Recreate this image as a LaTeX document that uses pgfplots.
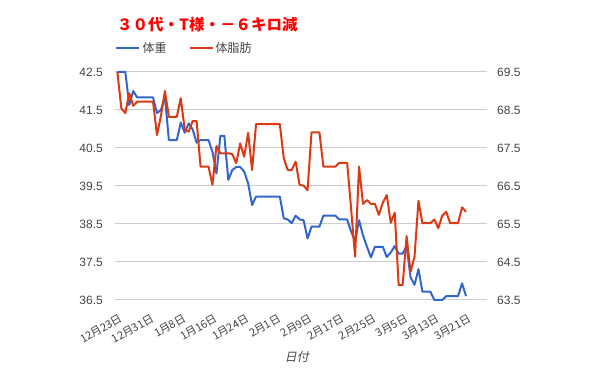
\documentclass[border=0pt]{standalone}
\usepackage{pgfplots}
\pgfplotsset{compat=1.18}
\usepackage{pgfplotstable}
\usepackage{fontspec}
\setmainfont{Liberation Sans}
\newfontfamily\jp{Noto Sans CJK JP}
\newfontfamily\jpit[FakeSlant=0.2]{Noto Sans CJK JP}
\definecolor{gblue}{HTML}{3366CC}
\definecolor{gred}{HTML}{DC3912}
\definecolor{gridc}{HTML}{CCCCCC}
\definecolor{txt}{HTML}{444444}
\pgfplotstableread{
day w f
0 42.5 69.5
1 42.5 68.54
2 42.5 68.42
3 41.63 68.94
4 42.0 68.61
5 41.83 68.72
6 41.83 68.72
7 41.83 68.72
8 41.83 68.72
9 41.83 68.72
10 41.42 67.84
11 41.5 68.35
12 41.85 69.0
13 40.71 68.32
14 40.71 68.32
15 40.71 68.32
16 41.17 68.81
17 40.9 67.99
18 41.15 67.93
19 40.99 68.21
20 40.64 68.21
21 40.71 67.01
22 40.71 67.01
23 40.71 67.01
24 40.4 66.53
25 39.83 67.55
26 40.82 67.36
27 40.82 67.36
28 39.66 67.36
29 39.92 67.34
30 40.0 67.1
31 40.0 67.62
32 39.88 67.27
33 39.57 67.9
34 39.0 66.92
35 39.22 68.13
36 39.22 68.13
37 39.22 68.13
38 39.22 68.13
39 39.22 68.13
40 39.22 68.13
41 39.22 68.13
42 38.65 67.23
43 38.62 66.92
44 38.52 66.92
45 38.72 67.14
46 38.62 66.53
47 38.6 66.51
48 38.12 66.39
49 38.43 67.91
50 38.43 67.91
51 38.43 67.91
52 38.72 67.01
53 38.72 67.01
54 38.72 67.01
55 38.72 67.01
56 38.62 67.11
57 38.62 67.11
58 38.62 67.11
59 38.3 65.9
60 38.05 64.64
61 38.6 67.01
62 38.2 66.03
63 37.9 66.13
64 37.62 66.03
65 37.9 66.03
66 37.9 65.74
67 37.9 66.06
68 37.63 66.26
69 37.75 65.53
70 37.92 65.8
71 37.72 63.89
72 37.72 63.89
73 37.92 65.18
74 37.1 64.24
75 36.9 64.64
76 37.31 66.11
77 36.72 65.52
78 36.72 65.52
79 36.72 65.52
80 36.5 65.62
81 36.5 65.39
82 36.5 65.72
83 36.6 65.82
84 36.6 65.52
85 36.6 65.52
86 36.6 65.52
87 36.94 65.94
88 36.6 65.82
}\datatable
\begin{document}
\begin{tikzpicture}
\path[use as bounding box] (0,0) rectangle (600bp,371bp);
\pgfplotsset{
  common/.style={
    scale only axis, width=372bp, height=228bp,
    at={(115bp,71bp)}, anchor=south west,
    xmin=-0.6, xmax=93.3,
    axis line style={draw=none},
    major tick length=0pt,
    clip=false,
    tick label style={font=\fontsize{12bp}{14bp}\selectfont, text=txt},
    /pgf/number format/.cd, fixed, fixed zerofill, precision=1, assume math mode=true,
  }
}
\begin{axis}[common,
  ymin=36.5, ymax=42.5,
  ytick={36.5,37.5,38.5,39.5,40.5,41.5,42.5},
  ymajorgrids, major grid style={draw=gridc, line width=1bp},
  yticklabel style={anchor=east, inner sep=0pt, xshift=-12bp},
  xtick={0,8,16,24,32,40,48,56,64,72,80,88},
  xticklabels={12月23日,12月31日,1月8日,1月16日,1月24日,2月1日,2月9日,2月17日,2月25日,3月5日,3月13日,3月21日},
  xticklabel style={font=\jp\fontsize{11bp}{13bp}\selectfont, rotate=30, anchor=east, inner sep=0pt, yshift=-17bp, xshift=-5bp},
  xlabel={\jpit 日付},
  xlabel style={at={(axis description cs:0.489,0)}, anchor=center, yshift=-57bp, font=\fontsize{12bp}{14bp}\selectfont, text=txt},
  title={\jp\bfseries ３０代・T様・－６キロ減},
  title style={at={(axis description cs:0,1)}, anchor=west, xshift=2bp, yshift=41bp, font=\fontsize{15.5bp}{17bp}\selectfont, text=red, inner sep=0pt},
]
\addplot[gblue, line width=2bp, line join=round] table[x=day, y=w] {\datatable};
\end{axis}
\begin{axis}[common,
  ymin=63.5, ymax=69.5,
  ytick={63.5,64.5,65.5,66.5,67.5,68.5,69.5},
  yticklabel pos=right,
  yticklabel style={anchor=west, inner sep=0pt, xshift=10bp},
  xtick=\empty,
  legend columns=2,
  legend style={at={(axis description cs:0,1)}, anchor=west, yshift=24bp, draw=none, fill=none, inner sep=0pt,
     font=\jp\fontsize{12bp}{14bp}\selectfont, text=txt,
     /tikz/every even column/.append style={column sep=20bp}},
  legend image code/.code={\draw[#1] (0bp,0bp) -- (23bp,0bp);},
]
\addlegendimage{gblue, line width=2.5bp}
\addlegendentry{体重}
\addplot[gred, line width=2bp, line join=round] table[x=day, y=f] {\datatable};
\addlegendentry{体脂肪}
\end{axis}
\end{tikzpicture}
\end{document}
